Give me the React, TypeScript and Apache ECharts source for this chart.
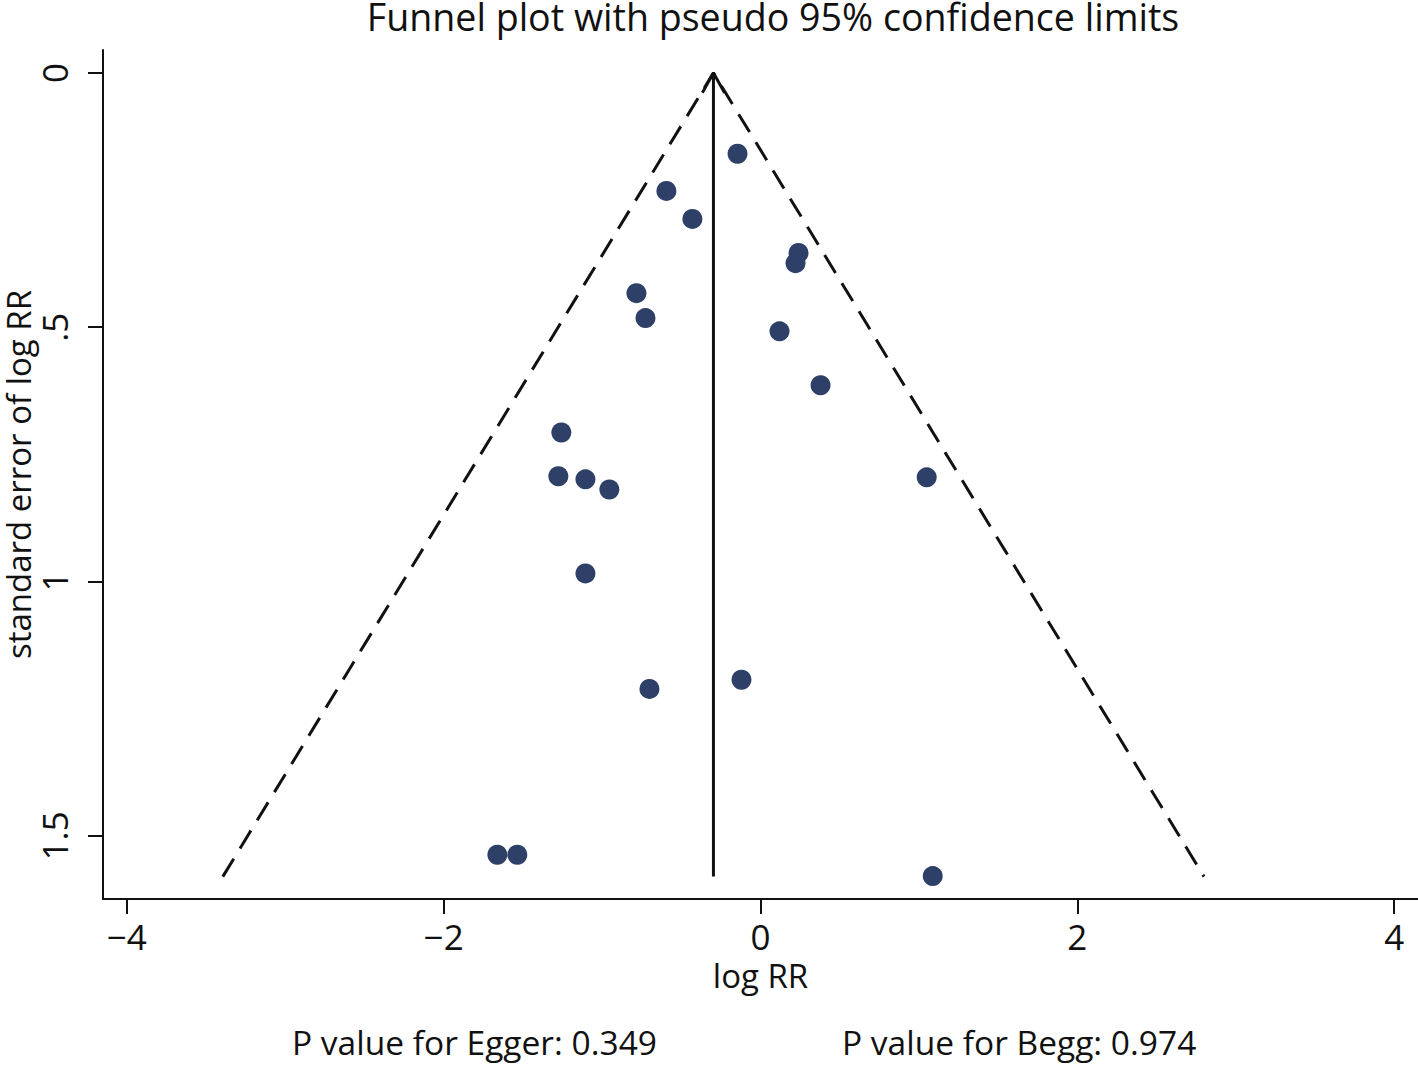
import React, { useEffect, useRef } from "react";
import * as echarts from "echarts";

const FONT = "'Open Sans', 'Noto Sans', sans-serif";

const logRR = [-0.145, -0.594, -0.43, 0.24, 0.221, -0.783, -0.726, 0.12, 0.379, -1.257, -1.276, -1.105, -0.954, 1.049, -1.105, -0.701, -0.12, -1.661, -1.535, 1.087];
const seLogRR = [0.159, 0.232, 0.287, 0.354, 0.374, 0.433, 0.482, 0.508, 0.614, 0.707, 0.793, 0.799, 0.819, 0.795, 0.984, 1.211, 1.193, 1.537, 1.537, 1.579];

const pooledEstimate = -0.297;
const maxSE = 1.58;
const z95 = 1.96;

const xTicks = [-4, -2, 0, 2, 4];
const yTicks = [0, 0.5, 1, 1.5];
const yTickLabels = ["0", ".5", "1", "1.5"];

const titleText = "Funnel plot with pseudo 95% confidence limits";
const xTitle = "log RR";
const yTitle = "standard error of log RR";
const eggerText = "P value for Egger: 0.349";
const beggText = "P value for Begg: 0.974";

export default function App() {
  const ref = useRef<HTMLDivElement>(null);
  useEffect(() => {
    if (!ref.current) return;
    const chart = echarts.init(ref.current, null, { renderer: "svg" });
    const points = logRR.map((x, i) => [x, seLogRR[i]]);
    const funnel = [
      [pooledEstimate - z95 * maxSE, maxSE],
      [pooledEstimate, 0],
      [pooledEstimate + z95 * maxSE, maxSE],
    ];
    const vertical = [
      [pooledEstimate, maxSE],
      [pooledEstimate, 0],
    ];
    const arrowHead = [
      [pooledEstimate - 0.07, 0.039],
      [pooledEstimate, 0],
      [pooledEstimate + 0.07, 0.039],
    ];
    chart.setOption({
      animation: false,
      textStyle: { fontFamily: FONT },
      grid: { left: 103, top: 50, right: 0, bottom: 167, containLabel: false, outerBoundsMode: "none" },
      xAxis: {
        type: "value",
        min: -4.15,
        max: 4.15,
        splitLine: { show: false },
        axisLine: { show: true, onZero: false, lineStyle: { color: "#111", width: 2 } },
        axisTick: { show: true, customValues: xTicks, length: 15, lineStyle: { color: "#111", width: 2 } },
        axisLabel: {
          customValues: xTicks,
          margin: 22,
          lineHeight: 30,
          color: "#111",
          fontSize: 35,
          fontFamily: FONT,
          formatter: (v: number) => String(v).replace("-", "\u2212"),
        },
        name: xTitle,
        nameLocation: "middle",
        nameGap: 61,
        nameMoveOverlap: false,
        nameTextStyle: { color: "#111", fontSize: 33, lineHeight: 30, fontFamily: FONT },
      },
      yAxis: {
        type: "value",
        inverse: true,
        min: -0.045,
        max: 1.624,
        splitLine: { show: false },
        axisLine: { show: true, onZero: false, lineStyle: { color: "#111", width: 2 } },
        axisTick: { show: true, customValues: yTicks, length: 15, lineStyle: { color: "#111", width: 2 } },
        axisLabel: {
          customValues: yTicks,
          rotate: 90,
          margin: 31,
          color: "#111",
          fontSize: 35,
          fontFamily: FONT,
          formatter: (v: number) => {
            const i = yTicks.findIndex((t) => Math.abs(t - v) < 1e-9);
            return i >= 0 ? yTickLabels[i] : "";
          },
        },
        name: yTitle,
        nameLocation: "middle",
        nameRotate: 90,
        nameGap: 70,
        nameMoveOverlap: false,
        nameTextStyle: { color: "#111", fontSize: 33, lineHeight: 30, fontFamily: FONT },
      },
      graphic: [
        {
          type: "text",
          x: 773,
          y: -3,
          style: { text: titleText, align: "center", verticalAlign: "top", fontSize: 37.6, fontFamily: FONT, fill: "#111" },
        },
        {
          type: "text",
          x: 292,
          y: 1025,
          style: { text: eggerText, align: "left", verticalAlign: "top", fontSize: 33.5, fontFamily: FONT, fill: "#111" },
        },
        {
          type: "text",
          x: 842,
          y: 1025,
          style: { text: beggText, align: "left", verticalAlign: "top", fontSize: 33.5, fontFamily: FONT, fill: "#111" },
        },
      ],
      series: [
        {
          type: "line",
          data: funnel,
          symbol: "none",
          lineStyle: { color: "#111", width: 3, type: [21, 12] },
          z: 2,
        },
        {
          type: "line",
          data: vertical,
          symbol: "none",
          lineStyle: { color: "#111", width: 3 },
          z: 2,
        },
        {
          type: "line",
          data: arrowHead,
          symbol: "none",
          lineStyle: { color: "#111", width: 3 },
          z: 2,
        },
        {
          type: "scatter",
          data: points,
          symbol: "circle",
          symbolSize: 20,
          itemStyle: { color: "#2E4068", opacity: 1 },
          z: 3,
        },
      ],
    });
    return () => chart.dispose();
  }, []);
  return (
    <div
      ref={ref}
      style={{ position: "fixed", left: 0, top: 0, width: 1418, height: 1066, background: "#fff" }}
    />
  );
}
